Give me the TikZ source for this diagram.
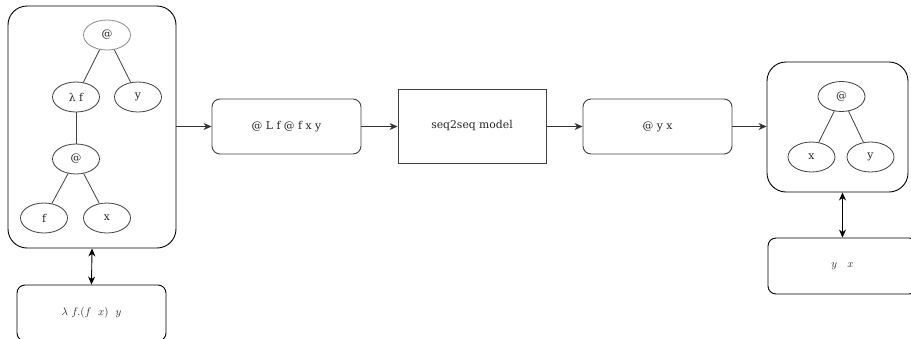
\documentclass[tikz,border=0pt]{standalone}
\usepackage{fontspec}
\setmainfont{DejaVu Serif}
\usetikzlibrary{arrows.meta,shapes.geometric}
\begin{document}
\begin{tikzpicture}[x=1pt,y=-1pt,
  every node/.style={font=\fontsize{10.8}{13}\selectfont, text=black!85},
  tnode/.style={ellipse, draw=black!75, line width=0.8pt, minimum width=47pt, minimum height=30pt, inner sep=0pt},
  bigbox/.style={draw=black, line width=0.9pt, rounded corners=19pt, inner sep=0pt},
  rbox/.style={draw=black!75, line width=0.9pt, rounded corners=8pt, inner sep=0pt},
  sbox/.style={draw=black!75, line width=0.9pt, inner sep=0pt},
  edge/.style={draw=black!75, line width=0.8pt},
  arr/.style={draw=black!80, line width=0.9pt, -{Stealth[length=8pt,width=7pt,inset=2.5pt]}},
  darr/.style={draw=black, line width=0.9pt, {Stealth[length=8pt,width=7pt,inset=2.5pt]}-{Stealth[length=8pt,width=7pt,inset=2.5pt]}}
]
\useasboundingbox (0,0) rectangle (911,338);
\clip (0,0) rectangle (911,338);
% left big box
\node[bigbox, minimum width=168pt, minimum height=242pt] (lbox) at (92,127) {};
\node[tnode, draw=black!45] (r) at (107,35) {@};
\node[tnode] (lf) at (76,97) {λ f};
\node[tnode] (ry) at (138,97) {y};
\node[tnode] (a2) at (76,159) {@};
\node[tnode] (f) at (44,218) {f};
\node[tnode] (x) at (107,218) {x};
\draw[edge] (r) -- (lf);
\draw[edge] (r) -- (ry);
\draw[edge] (lf) -- (a2);
\draw[edge] (a2) -- (f);
\draw[edge] (a2) -- (x);
% bottom left box
\node[rbox, draw=black, minimum width=149pt, minimum height=56pt] (lterm) at (91.5,313) {$\lambda\ f.(f\ \ x)\ \ y$};
\draw[darr] (lbox.south) -- (lterm.north);
% pipeline
\node[rbox, minimum width=149pt, minimum height=55pt] (enc) at (286.5,126.5) {@ L f @ f x y};
\node[sbox, minimum width=148pt, minimum height=74pt] (model) at (472,126) {seq2seq model};
\node[rbox, minimum width=149pt, minimum height=55pt] (dec) at (657.5,126.5) {@ y x};
% right big box
\node[bigbox, minimum width=141pt, minimum height=130pt] (rbig) at (837.5,127) {};
\node[tnode] (r2) at (841.5,96.5) {@};
\node[tnode] (rx) at (811.5,157) {x};
\node[tnode] (ry2) at (870.5,157) {y};
\draw[edge] (r2) -- (rx);
\draw[edge] (r2) -- (ry2);
% bottom right box
\node[rbox, draw=black, minimum width=149pt, minimum height=56pt] (rterm) at (842.5,266) {$y\ \ \ x$};
\draw[darr] (rterm.north) -- (rterm.north |- rbig.south);
% arrows
\draw[arr] (lbox.east |- enc.west) -- (enc.west);
\draw[arr] (enc.east) -- (model.west |- enc.east);
\draw[arr] (model.east |- dec.west) -- (dec.west);
\draw[arr] (dec.east) -- (rbig.west |- dec.east);
\end{tikzpicture}
\end{document}
